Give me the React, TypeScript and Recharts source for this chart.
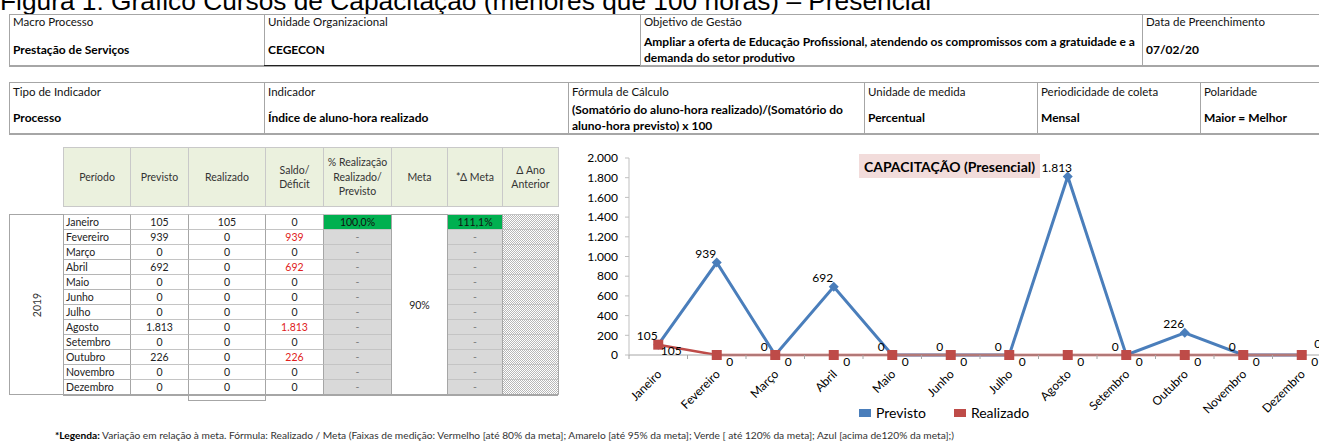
import React from 'react';
import { LineChart, Line, XAxis, YAxis } from 'recharts';

const meses = ['Janeiro', 'Fevereiro', 'Março', 'Abril', 'Maio', 'Junho', 'Julho', 'Agosto', 'Setembro', 'Outubro', 'Novembro', 'Dezembro'];
const previsto = [105, 939, 0, 692, 0, 0, 0, 1813, 0, 226, 0, 0];
const realizado = [105, 0, 0, 0, 0, 0, 0, 0, 0, 0, 0, 0];
const saldo = [0, 939, 0, 692, 0, 0, 0, 1813, 0, 226, 0, 0];
const realizacaoPct = ['100,0%', '-', '-', '-', '-', '-', '-', '-', '-', '-', '-', '-'];
const deltaMeta = ['111,1%', '-', '-', '-', '-', '-', '-', '-', '-', '-', '-', '-'];
const metaAno = '90%';
const ano = '2019';
const yTicks = [0, 200, 400, 600, 800, 1000, 1200, 1400, 1600, 1800, 2000];

const seriesNames = ['Previsto', 'Realizado'];
const seriesColors = ['#4a7ebb', '#be4b48'];

const tabelaCabecalho = [
  ['Período'],
  ['Previsto'],
  ['Realizado'],
  ['Saldo/', 'Déficit'],
  ['% Realização', 'Realizado/', 'Previsto'],
  ['Meta'],
  ['*Δ Meta'],
  ['Δ Ano', 'Anterior'],
];

const cab1 = [
  { label: 'Macro Processo', value: ['Prestação de Serviços'] },
  { label: 'Unidade Organizacional', value: ['CEGECON'] },
  { label: 'Objetivo de Gestão', value: ['Ampliar a oferta de Educação Profissional, atendendo os compromissos com a gratuidade e a', 'demanda do setor produtivo'] },
  { label: 'Data de Preenchimento', value: ['07/02/20'] },
];
const cab2 = [
  { label: 'Tipo de Indicador', value: ['Processo'] },
  { label: 'Indicador', value: ['Índice de aluno-hora realizado'] },
  { label: 'Fórmula  de Cálculo', value: ['(Somatório do aluno-hora realizado)/(Somatório do', 'aluno-hora previsto) x 100'] },
  { label: 'Unidade de medida', value: ['Percentual'] },
  { label: 'Periodicidade de coleta', value: ['Mensal'] },
  { label: 'Polaridade', value: ['Maior = Melhor'] },
];

const chartData = meses.map((mes, i) => ({ mes, previsto: previsto[i], realizado: realizado[i] }));

const fmt = (n: number) => String(n).replace(/\B(?=(\d{3})+(?!\d))/g, '.');

const FONT = 'Lato, "Open Sans", sans-serif';
const BORDER = '#a6a6a6';

type Col = { label: string; value: string[] };

const HeaderTable = ({ cols, xs, top, bottom, labelY, valueY }: { cols: Col[]; xs: number[]; top: number; bottom: number; labelY: number; valueY: number }) => (
  <>
    <div style={{ position: 'absolute', left: xs[0], top, width: xs[xs.length - 1] - xs[0], height: bottom - top, borderTop: `1px solid ${BORDER}`, borderBottom: `2px solid ${BORDER}`, boxSizing: 'border-box', background: '#fff' }} />
    {cols.map((c, i) => (
      <div key={i} style={{ position: 'absolute', left: xs[i], top, width: xs[i + 1] - xs[i], height: bottom - top, borderLeft: `1px solid ${BORDER}`, boxSizing: 'border-box' }}>
        <div style={{ position: 'absolute', left: 3, top: labelY - top - 7, fontSize: 11.5, lineHeight: '14px', whiteSpace: 'nowrap', color: '#111' }}>{c.label}</div>
        <div style={{ position: 'absolute', left: 3, top: valueY - top - c.value.length * 8, fontSize: 12, fontWeight: 700, lineHeight: '16px', whiteSpace: 'nowrap', color: '#000' }}>
          {c.value.map((v, j) => <div key={j}>{v}</div>)}
        </div>
      </div>
    ))}
  </>
);

const colX = [63, 130, 188, 265, 323, 391, 447, 502, 558];
const headTop = 147;
const headBottom = 207;
const bodyTop = 214;
const rowH = 15;

const DataTable = () => {
  const cells: React.ReactNode[] = [];
  tabelaCabecalho.forEach((lines, c) => {
    cells.push(
      <div key={`h${c}`} style={{ position: 'absolute', left: colX[c], top: headTop, width: colX[c + 1] - colX[c] + 1, height: headBottom - headTop, background: '#ebf1de', border: '1px solid #c9c9c9', boxSizing: 'border-box', display: 'flex', flexDirection: 'column', justifyContent: 'center', alignItems: 'center', fontSize: 10.5, lineHeight: '14.5px', color: '#333' }}>
        {lines.map((l, j) => <div key={j}>{l}</div>)}
      </div>
    );
  });
  meses.forEach((mes, i) => {
    const top = bodyTop + i * rowH;
    const vals: (string | null)[] = [mes, fmt(previsto[i]), fmt(realizado[i]), fmt(saldo[i]), realizacaoPct[i], null, deltaMeta[i], ''];
    vals.forEach((v, c) => {
      if (v === null) return;
      let bg = '#fff';
      let color = '#222';
      if (c === 4 || c === 6) {
        bg = v === '-' ? '#d9d9d9' : '#00b050';
        color = v === '-' ? '#808080' : '#111';
      }
      if (c === 3 && saldo[i] > 0) color = '#e02020';
      const hatch = c === 7;
      cells.push(
        <div key={`r${i}c${c}`} style={{ position: 'absolute', left: colX[c], top, width: colX[c + 1] - colX[c] + 1, height: rowH + 1, background: hatch ? undefined : bg, backgroundImage: hatch ? 'repeating-conic-gradient(#b8b8b8 0 25%, #ffffff 0 50%)' : undefined, backgroundSize: hatch ? '2px 2px' : undefined, border: `1px solid ${c === 0 ? '#b5b5b5' : '#c4c4c4'}`, borderLeftColor: BORDER, borderRightColor: BORDER, boxSizing: 'border-box', fontSize: 10.5, lineHeight: `${rowH - 1}px`, color, textAlign: c === 0 ? 'left' : 'center', paddingLeft: c === 0 ? 2 : 0, whiteSpace: 'nowrap' }}>
          {v}
        </div>
      );
    });
  });
  const bodyH = meses.length * rowH;
  return (
    <>
      {cells}
      <div style={{ position: 'absolute', left: colX[5], top: bodyTop, width: colX[6] - colX[5] + 1, height: bodyH + 1, background: '#fff', border: `1px solid ${BORDER}`, boxSizing: 'border-box', display: 'flex', alignItems: 'center', justifyContent: 'center', fontSize: 10.5, color: '#222' }}>{metaAno}</div>
      <div style={{ position: 'absolute', left: 9, top: bodyTop, width: colX[0] - 9 + 1, height: bodyH + 1, border: `1px solid ${BORDER}`, boxSizing: 'border-box' }}>
        <div style={{ position: 'absolute', left: '50%', top: '50%', transform: 'translate(-50%, -50%) rotate(-90deg)', fontSize: 10.5, color: '#333' }}>{ano}</div>
      </div>
      <div style={{ position: 'absolute', left: colX[0], top: bodyTop + bodyH, width: colX[8] - colX[0], height: 2, background: BORDER }} />
      <div style={{ position: 'absolute', left: colX[2], top: bodyTop + bodyH, width: colX[3] - colX[2] + 1, height: 7, border: `1px solid ${BORDER}`, borderTop: 'none', boxSizing: 'border-box' }} />
    </>
  );
};

const MonthTick = (props: any) => {
  const { x, y, payload } = props;
  const ax = x + 4;
  const ay = y + 20;
  return (
    <g>
      <line x1={x - 29.25} x2={x - 29.25} y1={y} y2={y + 4} stroke={BORDER} />
      <text x={ax} y={ay} transform={`rotate(-45, ${ax}, ${ay})`} textAnchor="end" fontSize={12} fontFamily={FONT} fill="#000">{payload.value}</text>
    </g>
  );
};

const DiamondDot = (props: any) => {
  const { cx, cy, index } = props;
  if (cx == null || cy == null) return <g key={index} />;
  return <path key={index} d={`M${cx},${cy - 5}L${cx + 5},${cy}L${cx},${cy + 5}L${cx - 5},${cy}Z`} fill={seriesColors[0]} />;
};

const SquareDot = (props: any) => {
  const { cx, cy, index } = props;
  if (cx == null || cy == null) return <g key={index} />;
  return <rect key={index} x={cx - 5} y={cy - 5} width={10} height={10} fill={seriesColors[1]} />;
};

const PrevLabel = (props: any) => {
  const { x, y, value, index } = props;
  const last = index === meses.length - 1;
  return (
    <text key={index} x={x + (last ? 16 : -11)} y={y + (last ? -12 : -9)} textAnchor="middle" dominantBaseline="central" fontSize={12} fontFamily={FONT} fill="#000">{fmt(value)}</text>
  );
};

const RealLabel = (props: any) => {
  const { x, y, value, index } = props;
  return (
    <text key={index} x={x + 13} y={y + 6} textAnchor="middle" dominantBaseline="central" fontSize={12} fontFamily={FONT} fill="#000">{fmt(value)}</text>
  );
};

export default function App() {
  return (
    <div style={{ position: 'absolute', left: 0, top: 0, width: 1319, height: 445, overflow: 'hidden', background: '#fff', fontFamily: FONT }}>
      <div style={{ position: 'absolute', left: 0, top: -14, fontFamily: '"Liberation Sans", Arial, sans-serif', fontSize: 26.3, lineHeight: '30px', whiteSpace: 'nowrap', color: '#000' }}>
        Figura 1: Gráfico Cursos de Capacitação (menores que 100 horas) – Presencial
      </div>

      <HeaderTable cols={cab1} xs={[9, 264, 640, 1142, 1330]} top={14} bottom={67} labelY={22} valueY={50} />
      <div style={{ position: 'absolute', left: 264, top: 65, width: 376, height: 1, background: '#222' }} />
      <HeaderTable cols={cab2} xs={[9, 264, 568, 864, 1037, 1200, 1330]} top={82} bottom={135} labelY={92} valueY={118} />

      <DataTable />

      <div style={{ position: 'absolute', left: 560, top: 140 }}>
        <LineChart width={771} height={300} data={chartData} margin={{ top: 18, right: 0, left: 0, bottom: 0 }}>
          <XAxis dataKey="mes" scale="band" interval={0} height={85} tickLine={false} tickSize={0} tickMargin={0} stroke={BORDER} tick={<MonthTick />} />
          <YAxis domain={[0, 2000]} ticks={yTicks} interval={0} width={69} tickSize={4} tickMargin={7} stroke="#bfbfbf" tickFormatter={fmt} tick={{ fill: '#000', fontSize: 12, fontFamily: FONT }} />
          <Line dataKey="previsto" name={seriesNames[0]} stroke={seriesColors[0]} strokeWidth={3} dot={DiamondDot} activeDot={false} label={PrevLabel} isAnimationActive={false} />
          <Line dataKey="realizado" name={seriesNames[1]} stroke={seriesColors[1]} strokeWidth={2.5} dot={SquareDot} activeDot={false} label={RealLabel} isAnimationActive={false} />
        </LineChart>
      </div>

      <div style={{ position: 'absolute', left: 859, top: 154, width: 181, height: 24, background: '#f2dcdb', display: 'flex', alignItems: 'center', justifyContent: 'center', fontSize: 14, fontWeight: 700, color: '#000', whiteSpace: 'nowrap' }}>
        CAPACITAÇÃO (Presencial)
      </div>

      <div style={{ position: 'absolute', left: 859, top: 404, display: 'flex', alignItems: 'center', fontSize: 14, color: '#000', whiteSpace: 'nowrap' }}>
        {seriesNames.map((n, i) => (
          <div key={n} style={{ display: 'flex', alignItems: 'center', marginRight: 28 }}>
            <div style={{ width: 12, height: 8, background: seriesColors[i], marginRight: 5 }} />
            <span>{n}</span>
          </div>
        ))}
      </div>

      <div style={{ position: 'absolute', left: 55, top: 429, fontSize: 10.2, lineHeight: '12px', color: '#333', whiteSpace: 'nowrap' }}>
        <b style={{ color: '#000' }}>*Legenda:</b> Variação em relação à meta. Fórmula: Realizado / Meta (Faixas de medição: Vermelho [até 80% da meta]; Amarelo [até 95% da meta]; Verde [ até 120% da meta]; Azul [acima de120% da meta];)
      </div>
    </div>
  );
}
